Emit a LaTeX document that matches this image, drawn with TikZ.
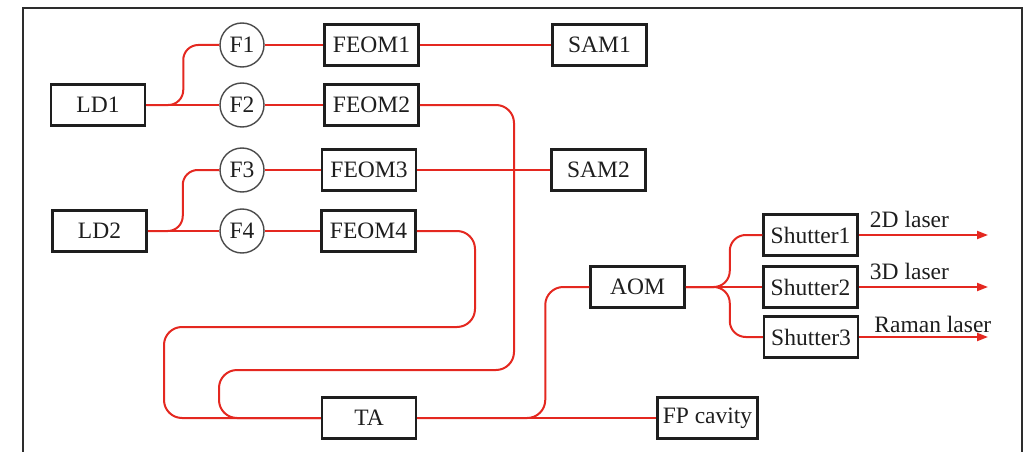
\documentclass[tikz,border=0pt]{standalone}
\usepackage{fontspec}
\setmainfont{Liberation Serif}
\usepackage{xcolor}
\usetikzlibrary{arrows.meta,calc}
\definecolor{fbRed}{RGB}{228, 40, 32}
\definecolor{fbInk}{RGB}{30, 30, 30}
\definecolor{fbFrame}{RGB}{45, 45, 45}

\begin{document}
\begin{tikzpicture}[x=1pt, y=-1pt,
    box/.style={draw=fbInk, line width=2.5pt, minimum width=94pt, minimum height=41pt,
      inner xsep=5.5pt, text=fbInk, font=\fontsize{23.5}{28}\selectfont},
    fsplit/.style={circle, draw=fbInk!80, line width=1.4pt, minimum size=44pt,
      inner sep=0pt, text=fbInk, font=\fontsize{23.5}{28}\selectfont},
    fiber/.style={draw=fbRed, line width=2pt, rounded corners=18pt},
    beam/.style={draw=fbRed, line width=2pt, -{Triangle[length=11pt,width=8pt]}},
    lbl/.style={anchor=base west, inner sep=0pt, text=fbInk,
      font=\fontsize{23.5}{28}\selectfont}]
    \useasboundingbox (0,0) rectangle (1031,452);
    \draw[fbFrame, line width=2.5pt] (23,8) rectangle (1022,480);

    % boxes
    \foreach \nom/\txt/\x/\y in {%
      LD1/LD1/98/105, LD2/LD2/99.5/231,%
      FEOM1/FEOM1/371.5/45, FEOM2/FEOM2/371.5/105,%
      FEOM3/FEOM3/369/170, FEOM4/FEOM4/368.5/231,%
      SAM1/SAM1/599.5/45, SAM2/SAM2/598.5/170,%
      TA/TA/369/418, FP/{FP cavity}/707.5/418, AOM/AOM/637.5/287,%
      Sh1/Shutter1/810.5/235, Sh2/Shutter2/810.5/287, Sh3/Shutter3/811/337%
    }{%
      \node[box] (\nom) at (\x,\y) {\txt};
    }
    % fibre splitters
    \foreach \k/\y in {1/45, 2/105, 3/170, 4/231}
      \node[fsplit] (F\k) at (242,\y) {F\k};

    \coordinate (loopA) at (514,370);
    \coordinate (loopB) at (219,370);
    \coordinate (loopC) at (475,327);
    \coordinate (loopD) at (164,327);
    \coordinate (outEdge) at (988,0);

    % lasers to splitters
    \draw[fiber] (LD1.east) -- (F2.west);
    \draw[fiber, rounded corners=15pt] (LD1.east) -- ++(37,0) |- (F1.west);
    \draw[fiber] (LD2.east) -- (F4.west);
    \draw[fiber, rounded corners=15pt] (LD2.east) -- ++(35,0) |- (F3.west);
    \foreach \k in {1,...,4}
      \draw[fiber] (F\k.east) -- (FEOM\k.west);
    \draw[fiber] (FEOM1.east) -- (SAM1.west);
    \draw[fiber] (FEOM3.east) -- (SAM2.west);

    % fibres into the TA
    \draw[fiber] (FEOM2.east) -| (loopA) -- (loopB) |- (TA.west);
    \draw[fiber] (FEOM4.east) -| (loopC) -- (loopD) |- (TA.west);
    \draw[fiber] (TA.east) -- (FP.west);
    \draw[fiber] (TA.east) -- ++(128,0) |- (AOM.west);

    % AOM and shutters
    \draw[fiber] (AOM.east) -- (Sh2.west);
    \draw[fiber, rounded corners=16pt] (AOM.east) -- ++(44,0) |- (Sh1.west);
    \draw[fiber, rounded corners=16pt] (AOM.east) -- ++(44,0) |- (Sh3.west);
    \foreach \s/\txt/\dx/\dy in {Sh1/2D laser/11/8, Sh2/3D laser/11/8,
      Sh3/Raman laser/15/5}{%
      \draw[beam] (\s.east) -- (\s.east -| outEdge);
      \node[lbl] (lab\s) at ($(\s.east)+(\dx,-\dy)$) {\txt};
    }
  \end{tikzpicture}
\end{document}
